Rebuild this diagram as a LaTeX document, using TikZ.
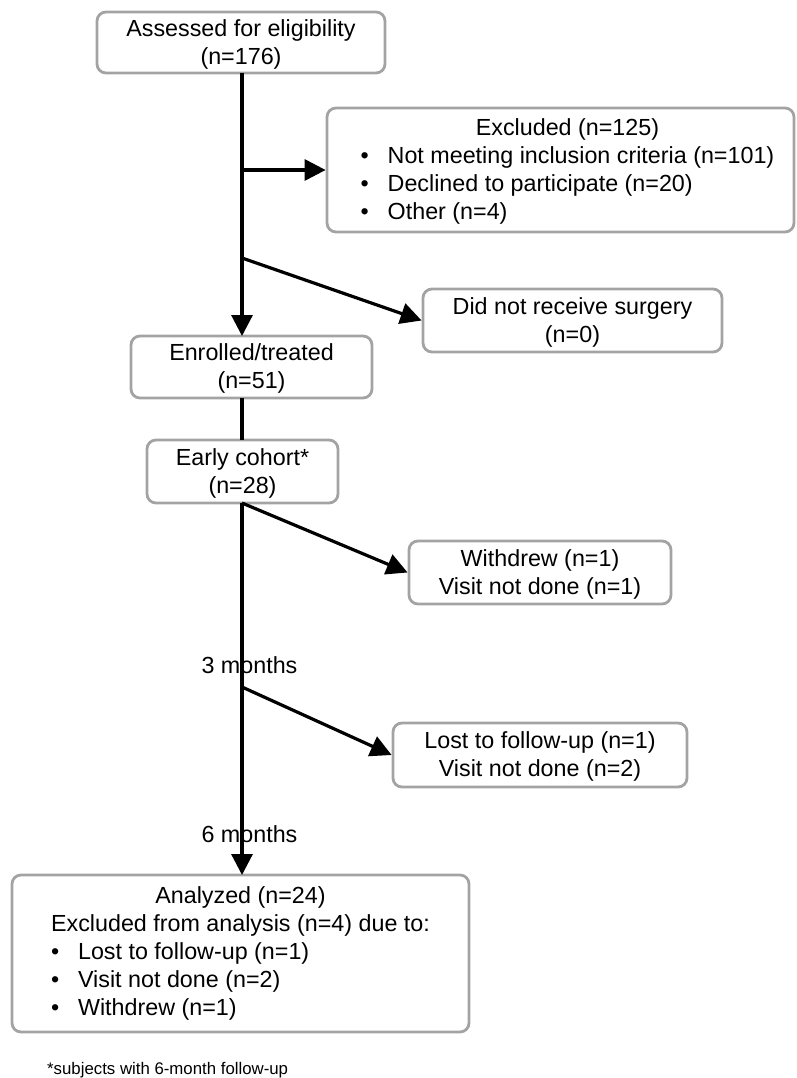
\documentclass[tikz,border=0pt]{standalone}
\usepackage{fontspec}
\setmainfont{Liberation Sans}
\usetikzlibrary{arrows.meta}
\definecolor{boxgray}{HTML}{A3A3A3}
\newcommand\mainfs{\fontsize{23.3}{28}\selectfont}
\newcommand\notefs{\fontsize{16.8}{19}\selectfont}
\newcommand\bul{\makebox[27pt][l]{\textbullet}}
\newcommand\lowered[1]{\raisebox{-2pt}[\height][\depth]{#1}}
\tikzset{
  box/.style={draw=boxgray, line width=2.8pt, rounded corners=9pt, inner sep=0pt,
              align=center, font=\mainfs, rectangle},
  arr/.style={line width=3.2pt, -{Triangle[length=21pt,width=21pt]}},
  ln/.style={line width=3.2pt},
  lbl/.style={font=\mainfs, inner sep=0pt},
}
\begin{document}
\begin{tikzpicture}[x=1pt,y=-1pt]
\useasboundingbox (0,0) rectangle (796,1078);

\node[box, minimum width=288pt, minimum height=61pt] (assess) at (241,42.5)
  {\lowered{\begin{tabular}{@{}c@{}}Assessed for eligibility\\(n=176)\end{tabular}}};
\node[box, minimum width=467pt, minimum height=124pt] (excl) at (560.5,170)
  {\lowered{\begin{tabular}{@{\hspace{14pt}}l@{}}
   \multicolumn{1}{@{\hspace{14pt}}c@{}}{Excluded (n=125)}\\
   \bul Not meeting inclusion criteria (n=101)\\
   \bul Declined to participate (n=20)\\
   \bul Other (n=4)
   \end{tabular}}};
\node[box, minimum width=299pt, minimum height=63pt] (nosurg) at (572.5,320.5)
  {\lowered{\begin{tabular}{@{}c@{}}Did not receive surgery\\(n=0)\end{tabular}}};
\node[box, minimum width=241pt, minimum height=62pt] (enrol) at (251.5,367)
  {\lowered{\begin{tabular}{@{}c@{}}Enrolled/treated\\(n=51)\end{tabular}}};
\node[box, minimum width=191pt, minimum height=63pt] (early) at (242.5,471.5)
  {\lowered{\begin{tabular}{@{}c@{}}Early cohort*\\(n=28)\end{tabular}}};
\node[box, minimum width=262pt, minimum height=63pt] (withdrew) at (540,572.5)
  {\lowered{\begin{tabular}{@{}c@{}}Withdrew (n=1)\\Visit not done (n=1)\end{tabular}}};
\node[box, minimum width=294pt, minimum height=64pt] (lost) at (540,755)
  {\lowered{\begin{tabular}{@{}c@{}}Lost to follow-up (n=1)\\Visit not done (n=2)\end{tabular}}};
\node[box, minimum width=457pt, minimum height=157pt] (analyzed) at (240.5,953.5)
  {\begin{tabular}{@{}l@{}}
   \multicolumn{1}{@{}c@{}}{Analyzed (n=24)}\\
   Excluded from analysis (n=4) due to:\\
   \bul Lost to follow-up (n=1)\\
   \bul Visit not done (n=2)\\
   \bul Withdrew (n=1)
   \end{tabular}};

\node[lbl] (m3) at (249.5,665) {3 months};
\node[lbl] (m6) at (249.5,834) {6 months};
\node[font=\notefs, inner sep=0pt, anchor=west] (note) at (47,1070)
  {*subjects with 6-month follow-up};

\coordinate (b1) at (242,170);
\coordinate (b2) at (242,258);
\coordinate (b4) at (242,687);

\draw[arr] (242,73) -- (242,336);
\draw[arr] (b1) -- (excl.west);
\draw[arr] (b2) -- (nosurg.west);
\draw[ln] (242,398) -- (242,440);
\draw[arr] (242,503) -- (242,875);
\draw[arr] (242,503) -- (withdrew.west);
\draw[arr] (b4) -- (lost.west);
\end{tikzpicture}
\end{document}
